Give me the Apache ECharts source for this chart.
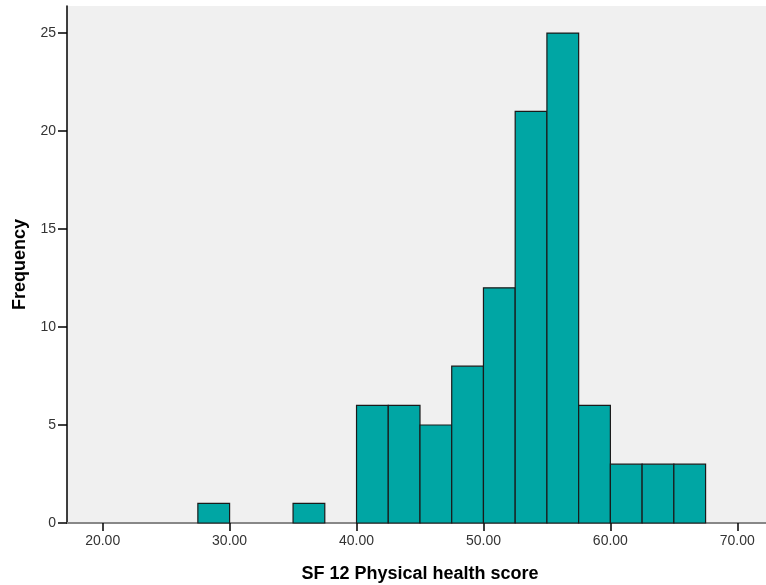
<!DOCTYPE html>
<html><head><meta charset="utf-8">
<script src="https://cdn.jsdelivr.net/npm/echarts@6/dist/echarts.min.js"></script>
<style>html,body{margin:0;padding:0;background:#fff}#c{width:766px;height:585px}</style>
</head><body><div id="c"></div>
<script>
// Histogram bins (lower edges, width 2.5) and frequencies
var binWidth = 2.5;
var binLow = [27.5, 35, 40, 42.5, 45, 47.5, 50, 52.5, 55, 57.5, 60, 62.5, 65];
var freq   = [1,    1,  6,  6,    5,  8,    12, 21,   25, 6,    3,  3,    3];
var xTicks = [20, 30, 40, 50, 60, 70];
var yTicks = [0, 5, 10, 15, 20, 25];

var data = binLow.map(function (b, i) { return [b, b + binWidth, freq[i]]; });
var chart = echarts.init(document.getElementById('c'));
var font = 'Liberation Sans, Arial, sans-serif';
chart.setOption({
  animation: false,
  grid: { left: 67, right: 0, top: 6, bottom: 62, containLabel: false, outerBoundsMode: 'none',
    backgroundColor: '#f0f0f0', show: true, borderWidth: 0 },
  xAxis: [{
    type: 'value', min: 17.19, max: 72.26,
    name: 'SF 12 Physical health score', nameLocation: 'middle', nameGap: 42,
    nameTextStyle: { fontFamily: font, fontWeight: 'bold', fontSize: 18, color: '#000', padding: [0, 0, 0, 7] },
    axisLine: { show: true, onZero: false, lineStyle: { color: '#000', width: 1.5 } },
    axisTick: { show: true, length: 8, customValues: xTicks, lineStyle: { color: '#000', width: 1.5 } },
    axisLabel: { fontFamily: font, fontSize: 14, color: '#333', margin: 11,
      customValues: xTicks, formatter: function (v) { return v.toFixed(2); } },
    splitLine: { show: false }
  }, {
    type: 'value', position: 'top', min: 17.19, max: 72.26,
    axisLine: { show: true, lineStyle: { color: '#888', width: 2 } },
    axisTick: { show: false }, axisLabel: { show: false }, splitLine: { show: false }
  }],
  yAxis: {
    type: 'value', min: 0, max: 26.38,
    name: 'Frequency', nameLocation: 'middle', nameGap: 37,
    nameTextStyle: { fontFamily: font, fontWeight: 'bold', fontSize: 18, color: '#000' },
    axisLine: { show: true, lineStyle: { color: '#000', width: 1.5 } },
    axisTick: { show: true, length: 9, customValues: yTicks, lineStyle: { color: '#000', width: 1.5 } },
    axisLabel: { fontFamily: font, fontSize: 14, color: '#333', margin: 11,
      customValues: yTicks },
    splitLine: { show: false }
  },
  series: [{
    type: 'custom', xAxisIndex: 0,
    renderItem: function (params, api) {
      var p0 = api.coord([api.value(0), 0]);
      var p1 = api.coord([api.value(1), api.value(2)]);
      return {
        type: 'rect',
        shape: { x: p0[0], y: p1[1], width: p1[0] - p0[0], height: p0[1] - p1[1] },
        style: { fill: '#00a6a4', stroke: '#1a1a1a', lineWidth: 1.2 }
      };
    },
    encode: { x: [0, 1], y: 2 },
    data: data
  }]
});
</script></body></html>
